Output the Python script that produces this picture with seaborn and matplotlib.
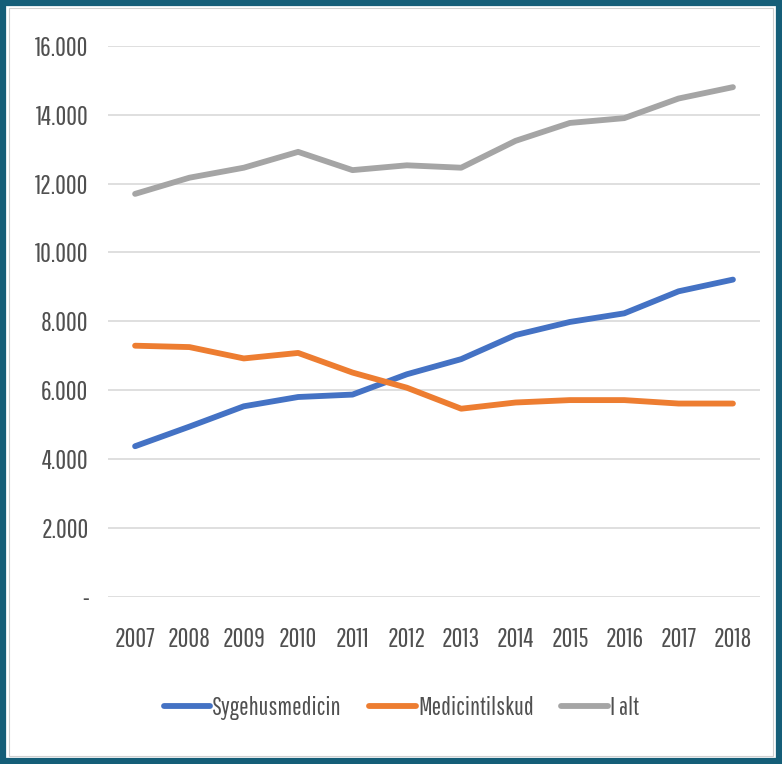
import pandas as pd
import matplotlib.pyplot as plt
import seaborn as sns
from matplotlib.patches import Rectangle
from matplotlib.ticker import FuncFormatter

# Data (mio. kr.)
years = [2007, 2008, 2009, 2010, 2011, 2012, 2013, 2014, 2015, 2016, 2017, 2018]
sygehusmedicin = [4370, 4940, 5530, 5800, 5870, 6460, 6900, 7600, 7980, 8230, 8870, 9210]
medicintilskud = [7290, 7250, 6920, 7080, 6510, 6070, 5460, 5640, 5710, 5710, 5610, 5610]
i_alt = [11700, 12170, 12460, 12920, 12390, 12530, 12460, 13240, 13760, 13900, 14470, 14800]
series_names = ['Sygehusmedicin', 'Medicintilskud', 'I alt']
colors = ['#4472C4', '#ED7D31', '#A5A5A5']

# Long-form table for seaborn
df = pd.DataFrame({
    'year': years * 3,
    'value': sygehusmedicin + medicintilskud + i_alt,
    'serie': [n for n in series_names for _ in years],
})

sns.set_style('white')
plt.rcParams['font.family'] = ['Pathway Gothic One', 'DejaVu Sans']

fig = plt.figure(figsize=(7.82, 7.64), dpi=100)
ax = fig.add_axes([0.138, 0.219, 0.834, 0.721])

sns.lineplot(data=df, x='year', y='value', hue='serie', palette=colors,
             linewidth=4.2, ax=ax, legend=True)

ax.set_xlim(2006.5, 2018.5)
ax.set_ylim(0, 16000)
ax.set_xticks(years)
ax.set_yticks(range(0, 16001, 2000))

def dk_fmt(v, pos):
    if v == 0:
        return '-'
    return f'{int(v):,}'.replace(',', '.')

ax.yaxis.set_major_formatter(FuncFormatter(dk_fmt))
ax.tick_params(axis='both', length=0, labelsize=19, labelcolor='#505050')
ax.tick_params(axis='x', pad=22)
ax.tick_params(axis='y', pad=14)
ax.grid(axis='y', color='#D9D9D9', linewidth=1.2)
ax.set_axisbelow(True)
ax.set_xlabel('')
ax.set_ylabel('')
for s in ax.spines.values():
    s.set_visible(False)

# Legend below the plot
handles, labels = ax.get_legend_handles_labels()
ax.legend(handles, labels, loc='center', bbox_to_anchor=(0.45, -0.202),
          ncol=3, frameon=False, fontsize=18, handlelength=1.85,
          handletextpad=0.1, columnspacing=1.1, labelcolor='#505050')
for line in ax.get_legend().get_lines():
    line.set_linewidth(4.2)

# Dark frame around the whole figure
fig.patches.append(Rectangle((0.004, 0.004), 0.992, 0.992, transform=fig.transFigure,
                             fill=False, edgecolor='#155E78', linewidth=4.5))
fig.patches.append(Rectangle((0.011, 0.011), 0.978, 0.978, transform=fig.transFigure,
                             fill=False, edgecolor='#D0D0D0', linewidth=0.8))

fig.savefig('out.png', dpi=100)
plt.close(fig)
